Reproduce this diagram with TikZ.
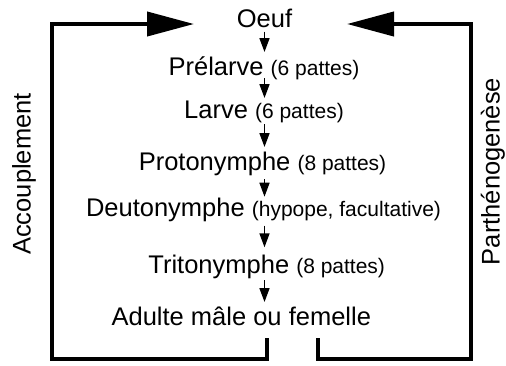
\documentclass[tikz,border=0pt]{standalone}
\usepackage{fontspec}
\setmainfont{Liberation Sans}
\usetikzlibrary{arrows.meta,calc}
\newcommand{\mainsz}{\fontsize{25.5}{30}\selectfont}
\newcommand{\smallsz}{\fontsize{21}{25}\selectfont}
\tikzset{
  stage/.style={inner sep=0pt, anchor=base, font=\mainsz},
  sidelabel/.style={inner sep=0pt, rotate=90, font=\mainsz},
  sarrow/.style={line width=1.6pt, -{Triangle[length=14pt,width=10pt]}},
  bigloop/.style={line width=4pt, line join=miter, -{Triangle[length=47pt,width=24pt]}}
}
\begin{document}
\begin{tikzpicture}[x=1pt,y=-1pt]
\useasboundingbox (0,0) rectangle (506,365);
\coordinate (ax) at (264.5,0);
\node[stage] (oeuf) at (264.5,27.5) {Oeuf};
\node[stage] (prel) at (264,75) {Prélarve {\smallsz(6 pattes)}};
\node[stage] (larve) at (264,118) {Larve {\smallsz(6 pattes)}};
\node[stage] (proto) at (262.5,170) {Protonymphe {\smallsz(8 pattes)}};
\node[stage] (deuto) at (263.5,216.7) {Deutonymphe {\smallsz(hypope, facultative)}};
\node[stage] (trito) at (266.7,273.3) {Tritonymphe {\smallsz(8 pattes)}};
\node[stage] (adulte) at (241.3,325) {Adulte mâle ou femelle};
\draw[sarrow] ($(oeuf.base -| ax)+(0,4)$) -- ($(prel.base -| ax)+(0,-23)$);
\draw[sarrow] ($(prel.base -| ax)+(0,3)$) -- ($(larve.base -| ax)+(0,-20)$);
\draw[sarrow] ($(larve.base -| ax)+(0,6)$) -- ($(proto.base -| ax)+(0,-23)$);
\draw[sarrow] ($(proto.base -| ax)+(0,9)$) -- ($(deuto.base -| ax)+(0,-20)$);
\draw[sarrow] ($(deuto.base -| ax)+(0,9)$) -- ($(trito.base -| ax)+(0,-26)$);
\draw[sarrow] ($(trito.base -| ax)+(0,7)$) -- ($(adulte.base -| ax)+(0,-23)$);
\coordinate (ls) at (267,338);
\coordinate (rs) at (318,338);
\coordinate (lt) at (194,24);
\coordinate (rt) at (347,24);
\draw[bigloop] (ls) -- (267,359) -- (52,359) -- (52,24) -- (lt);
\draw[bigloop] (rs) -- (318,359) -- (470.5,359) -- (470.5,24) -- (rt);
\node[sidelabel] (acc) at (24,174) {Accouplement};
\node[sidelabel] (parth) at (493,171.5) {Parthénogenèse};
\end{tikzpicture}
\end{document}
